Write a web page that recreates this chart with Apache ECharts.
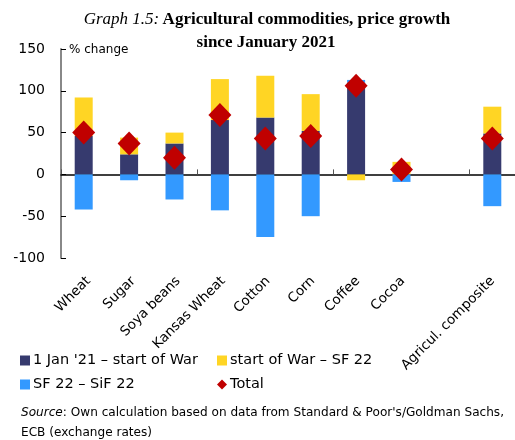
<!DOCTYPE html>
<html>
<head>
<meta charset="utf-8">
<script src="https://cdn.jsdelivr.net/npm/echarts@6/dist/echarts.min.js"></script>
<style>
  html, body { margin: 0; padding: 0; background: #fff; }
  #container { width: 515px; height: 440px; }
</style>
</head>
<body>
<div id="container"></div>
<script>
// categories (empty slot keeps the gap before the composite)
const commodities = ['Wheat', 'Sugar', 'Soya beans', 'Kansas Wheat', 'Cotton', 'Corn', 'Coffee', 'Cocoa', '', 'Agricul. composite'];
// % change
const janToWar = [46, 24, 37, 65, 68, 52, 110, 0, null, 49];
const warToSF = [46, 20, 13, 49, 50, 44, -7, 15, null, 32];
const sfToSiF = [-42, -7, -30, -43, -75, -50, 3, -9, null, -38];
const total = [50, 37, 20, 71, 43, 46, 106, 6, null, 43];
const yTicks = { min: -100, max: 150, step: 50 };

const FONT = 'DejaVu Sans';
const SERIF = '"Liberation Serif"';
const dom = document.getElementById('container');
const myChart = echarts.init(dom, null, { renderer: 'canvas' });

const barSeries = (name, data, color) => ({
  name: name,
  type: 'bar',
  stack: 'total',
  barWidth: 18,
  xAxisIndex: 0,
  yAxisIndex: 0,
  itemStyle: { color: color },
  data: data
});

const option = {
  animation: false,
  graphic: [
    {
      type: 'text', x: 267, y: 20,
      style: {
        text: '{it|Graph 1.5:} {b|Agricultural commodities, price growth}',
        align: 'center', verticalAlign: 'middle',
        rich: {
          it: { font: 'italic 17px ' + SERIF, fill: '#000' },
          b: { font: 'bold 17px ' + SERIF, fill: '#000' }
        }
      }
    },
    {
      type: 'text', x: 266, y: 43,
      style: {
        text: 'since January 2021',
        align: 'center', verticalAlign: 'middle',
        font: 'bold 17px ' + SERIF, fill: '#000'
      }
    },
    {
      type: 'text', left: 69, top: 44,
      style: { text: '% change', font: '12px "DejaVu Sans"', fill: '#000' }
    },
    {
      type: 'text', left: 21, top: 403,
      style: {
        text: '{i|Source}: Own calculation based on data from Standard & Poor\'s/Goldman Sachs,\nECB (exchange rates)',
        font: '12.1px "DejaVu Sans"',
        fill: '#000',
        lineHeight: 20,
        rich: { i: { font: 'italic 12.1px "DejaVu Sans"', lineHeight: 20 } }
      }
    }
  ],
  legend: [
    {
      left: 20, top: 353, orient: 'vertical', itemGap: 9, padding: 0,
      itemWidth: 10, itemHeight: 10,
      textStyle: { fontFamily: FONT, fontSize: 14.5, color: '#000', padding: [0, 0, 0, -2] },
      data: [
        { name: '1 Jan \'21 – start of War', icon: 'rect' },
        { name: 'SF 22 – SiF 22', icon: 'rect' }
      ]
    },
    {
      left: 217, top: 353, orient: 'vertical', itemGap: 9, padding: 0,
      itemWidth: 10, itemHeight: 10,
      textStyle: { fontFamily: FONT, fontSize: 14.5, color: '#000', padding: [0, 0, 0, -2] },
      data: [
        { name: 'start of War – SF 22', icon: 'rect' },
        { name: 'Total', icon: 'diamond', itemStyle: { opacity: 1 } }
      ]
    }
  ],
  grid: [
    { left: 61, right: -3, top: 49, bottom: 182 },
    // label-only grid, nudged right so the rotated names hang like the original
    { left: 66, right: -8, top: 49, bottom: 182 }
  ],
  xAxis: [
    {
      type: 'category',
      gridIndex: 0,
      data: commodities,
      axisLine: { onZero: true, lineStyle: { color: '#000', width: 1.5 } },
      axisTick: { show: true, inside: true, length: 5, lineStyle: { color: '#555' } },
      axisLabel: { show: false }
    },
    {
      type: 'category',
      gridIndex: 1,
      data: commodities,
      position: 'bottom',
      axisLine: { show: false, onZero: false },
      axisTick: { show: false },
      axisLabel: {
        rotate: 45, margin: 21, interval: 0,
        fontFamily: FONT, fontSize: 13.5, color: '#000'
      }
    }
  ],
  yAxis: [
    {
      type: 'value',
      gridIndex: 0,
      min: yTicks.min,
      max: yTicks.max,
      interval: yTicks.step,
      axisLine: { show: true, lineStyle: { color: '#888', width: 2 } },
      axisTick: { show: true, inside: true, length: 5, lineStyle: { color: '#000' } },
      splitLine: { show: false },
      axisLabel: { margin: 16, fontFamily: FONT, fontSize: 14, color: '#000' }
    },
    {
      type: 'value',
      gridIndex: 1,
      min: yTicks.min,
      max: yTicks.max,
      show: false
    }
  ],
  series: [
    barSeries('1 Jan \'21 – start of War', janToWar, '#363a6e'),
    barSeries('start of War – SF 22', warToSF, '#ffd524'),
    barSeries('SF 22 – SiF 22', sfToSiF, '#3399ff'),
    {
      name: 'Total',
      type: 'scatter',
      xAxisIndex: 0,
      yAxisIndex: 0,
      symbol: 'diamond',
      symbolSize: [23, 24],
      itemStyle: { color: '#c00000', opacity: 1 },
      z: 5,
      data: total
    }
  ]
};

myChart.setOption(option);
window.addEventListener('resize', myChart.resize);
</script>
</body>
</html>
